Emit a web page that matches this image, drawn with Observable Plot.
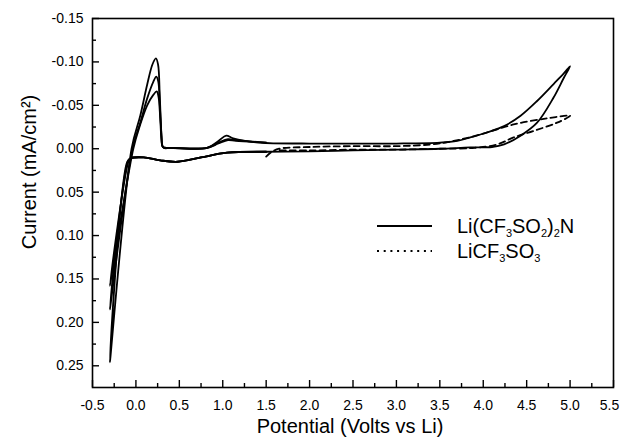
<!DOCTYPE html>
<html>
<head>
<meta charset="utf-8">
<script src="https://cdn.jsdelivr.net/npm/d3@7"></script>
<script src="https://cdn.jsdelivr.net/npm/@observablehq/plot@0.6"></script>
<style>
  html, body { margin: 0; padding: 0; background: white; }
</style>
</head>
<body>
<div id="chart"></div>
<script>
// ---- Data (Potential V vs Li, Current mA/cm^2) ----
const imideCycle1 = [
  [2.0, 0.003], [1.5, 0.0035], [1.05, 0.0046], [0.75, 0.010], [0.48, 0.015], [0.28, 0.0134],
  [0.09, 0.010], [-0.06, 0.011], [-0.10, 0.015], [-0.3, 0.246],
  [-0.05, 0.0], [0.05, -0.038], [0.13, -0.074], [0.19, -0.097], [0.23, -0.104], [0.255, -0.097],
  [0.275, -0.06], [0.295, -0.015], [0.31, -0.002], [0.4, -0.001], [0.82, -0.001], [0.95, -0.009],
  [1.04, -0.015], [1.12, -0.012], [1.43, -0.007], [2.0, -0.006], [2.5, -0.006], [3.0, -0.006],
  [3.5, -0.007], [3.7, -0.009], [3.85, -0.013], [4.05, -0.019], [4.24, -0.026], [4.43, -0.038],
  [4.62, -0.055], [4.81, -0.0745], [4.93, -0.087], [5.0, -0.095],
  [4.93, -0.082], [4.81, -0.059], [4.62, -0.030], [4.43, -0.015], [4.24, -0.005], [4.1, -0.002],
  [3.85, -0.0015], [3.5, 0.0], [3.0, 0.001], [2.5, 0.002], [2.0, 0.003]
];
const imideCycle2 = [
  [1.5, 0.0035], [1.05, 0.0046], [0.75, 0.010], [0.48, 0.015], [0.28, 0.0134], [0.09, 0.010],
  [-0.06, 0.011], [-0.09, 0.014], [-0.3, 0.185],
  [-0.04, 0.0], [0.05, -0.030], [0.13, -0.058], [0.2, -0.077], [0.235, -0.083], [0.258, -0.077],
  [0.278, -0.045], [0.298, -0.010], [0.31, -0.002], [0.4, -0.001], [0.82, -0.001], [0.95, -0.007],
  [1.06, -0.011], [1.15, -0.010], [1.5, -0.007]
];
const imideCycle3 = [
  [1.5, 0.0035], [1.05, 0.0046], [0.75, 0.010], [0.48, 0.015], [0.28, 0.0134], [0.09, 0.010],
  [-0.06, 0.011], [-0.08, 0.013], [-0.3, 0.158],
  [-0.03, 0.0], [0.05, -0.028], [0.13, -0.050], [0.2, -0.062], [0.24, -0.066], [0.26, -0.060],
  [0.28, -0.035], [0.30, -0.006], [0.32, -0.001], [0.4, -0.001], [0.82, -0.001], [0.95, -0.006],
  [1.06, -0.010], [1.15, -0.009], [1.5, -0.007]
];
const triflateCycle = [
  [1.5, 0.009], [1.56, 0.004], [1.65, 0.0], [2.0, -0.002], [2.5, -0.003], [3.0, -0.003],
  [3.4, -0.005], [3.66, -0.009], [3.97, -0.0165], [4.35, -0.028], [4.74, -0.035], [5.0, -0.038],
  [4.85, -0.030], [4.58, -0.0205], [4.35, -0.013], [4.16, -0.005], [3.9, -0.001], [3.5, 0.0],
  [3.0, 0.001], [2.5, 0.001], [2.0, 0.002], [1.65, 0.002]
];

const xMajorTicks = [-0.5, 0, 0.5, 1, 1.5, 2, 2.5, 3, 3.5, 4, 4.5, 5, 5.5];
const xMinorTicks = [-0.25, 0.25, 0.75, 1.25, 1.75, 2.25, 2.75, 3.25, 3.75, 4.25, 4.75, 5.25];
const yMajorTicks = [-0.15, -0.10, -0.05, 0, 0.05, 0.10, 0.15, 0.20, 0.25];
const yMinorTicks = [-0.125, -0.075, -0.025, 0.025, 0.075, 0.125, 0.175, 0.225];

const xTitle = "Potential (Volts vs Li)";
const yTitle = "Current (mA/cm²)";

const FONT = "'Liberation Sans', Arial, Helvetica, sans-serif";

const lineOpts = {x: d => d[0], y: d => d[1], stroke: "black", strokeWidth: 1.8, curve: "catmull-rom"};
const fmtX = d => d.toFixed(1);

const chart = Plot.plot({
  width: 620,
  height: 440,
  marginLeft: 92,
  marginRight: 7,
  marginTop: 18,
  marginBottom: 53,
  style: {fontFamily: FONT, fontSize: "14px", color: "black", background: "white"},
  x: {domain: [-0.5, 5.5]},
  y: {domain: [-0.15, 0.275], reverse: true},
  marks: [
    Plot.line(imideCycle1, lineOpts),
    Plot.line(imideCycle2, lineOpts),
    Plot.line(imideCycle3, lineOpts),
    Plot.line(triflateCycle, {...lineOpts, strokeDasharray: "6,4"}),
    Plot.axisX(xMajorTicks, {tickSize: -7, strokeWidth: 1.4, fill: "none", label: null}),
    Plot.axisX(xMinorTicks, {tickSize: -4, strokeWidth: 1.4, fill: "none", label: null}),
    Plot.axisX(xMajorTicks.slice(0, -1), {tickSize: 0, tickPadding: 13, tickFormat: fmtX, label: null}),
    Plot.axisX(xMajorTicks.slice(-1), {tickSize: 0, tickPadding: 13, tickFormat: fmtX, dx: -4, label: null}),
    Plot.axisY(yMajorTicks, {tickSize: -7, strokeWidth: 1.4, fill: "none", label: null}),
    Plot.axisY(yMinorTicks, {tickSize: -4, strokeWidth: 1.4, fill: "none", label: null}),
    Plot.axisY(yMajorTicks, {tickSize: 0, tickPadding: 9, tickFormat: d => d.toFixed(2), label: null}),
    Plot.text([xTitle], {frameAnchor: "bottom", lineAnchor: "middle", textAnchor: "middle", text: d => d, dx: -3, dy: 39, fontSize: 20}),
    Plot.text([yTitle], {frameAnchor: "left", lineAnchor: "middle", textAnchor: "middle", text: d => d, rotate: -90, dx: -63, dy: -31, fontSize: 20}),
    Plot.frame({stroke: "black", strokeWidth: 1.6})
  ]
});

document.getElementById("chart").appendChild(chart);

// ---- Legend (inside plot area) ----
const svg = d3.select(chart);
const lg = svg.append("g")
  .attr("font-family", FONT).attr("font-size", 20).attr("fill", "black")
  .attr("text-anchor", "start");
const legendItems = [
  {dash: null, y: 226, parts: [["Li(CF", 0], ["3", 1], ["SO", 0], ["2", 1], [")", 0], ["2", 1], ["N", 0]]},
  {dash: "2,4.7", y: 251, parts: [["LiCF", 0], ["3", 1], ["SO", 0], ["3", 1]]}
];
legendItems.forEach(item => {
  lg.append("line")
    .attr("x1", 377).attr("x2", 432).attr("y1", item.y).attr("y2", item.y)
    .attr("stroke", "black").attr("stroke-width", 1.8)
    .attr("stroke-dasharray", item.dash);
  const t = lg.append("text").attr("x", 457).attr("y", item.y + 7).attr("text-anchor", "start");
  let prevSub = 0;
  item.parts.forEach(([s, sub]) => {
    const shift = (sub - prevSub) * 4;
    t.append("tspan").text(s)
      .attr("dy", shift)
      .attr("font-size", sub ? 11 : 20);
    prevSub = sub;
  });
});
</script>
</body>
</html>
